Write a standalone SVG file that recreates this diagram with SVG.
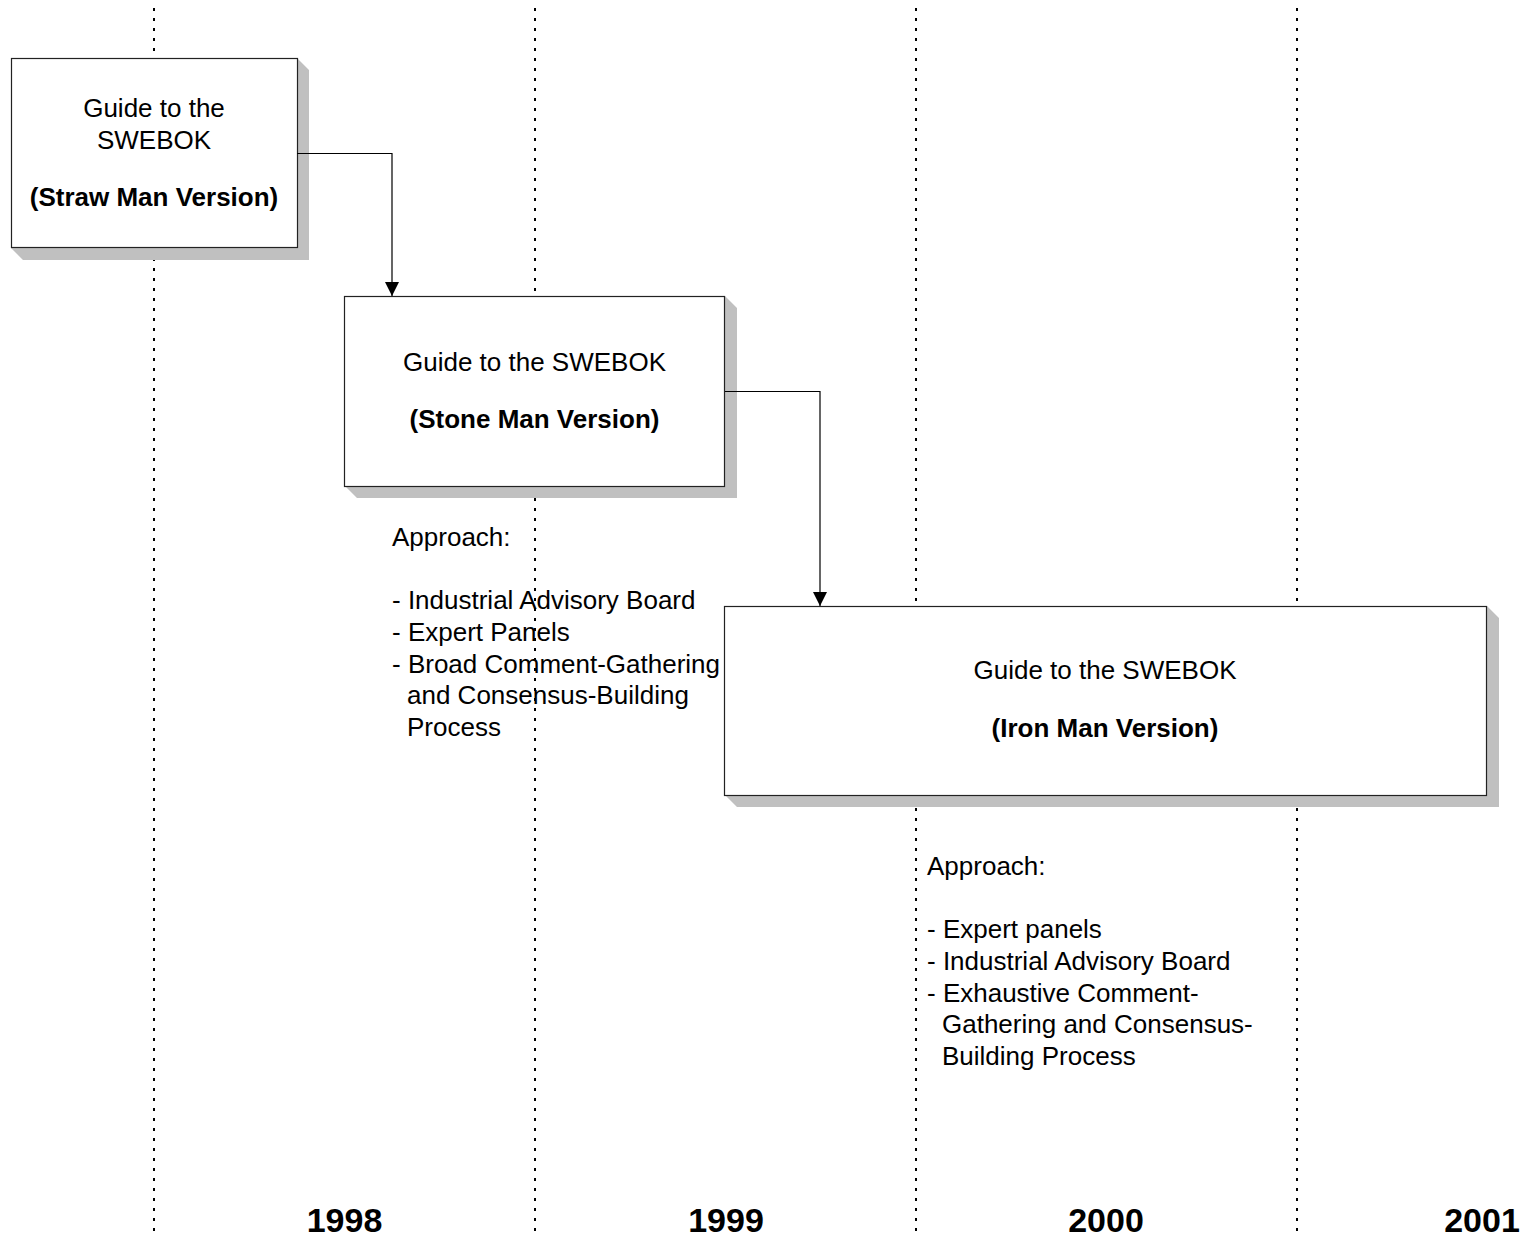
<svg xmlns="http://www.w3.org/2000/svg" width="1524" height="1238" viewBox="0 0 1524 1238">
  <style>
    .grid { stroke: #000; stroke-width: 2; stroke-dasharray: 3 7; fill: none; }
    .box { fill: #fff; stroke: #222; stroke-width: 1.2; }
    .shadow { fill: #c0c0c0; stroke: none; }
    .t { font-family: "Liberation Sans", Arial, sans-serif; font-size: 26px; fill: #000; }
    .c { text-anchor: middle; }
    .b { font-weight: bold; }
    .yr { font-family: "Liberation Sans", Arial, sans-serif; font-size: 34px; font-weight: bold; text-anchor: middle; fill: #000; }
    .conn { stroke: #000; stroke-width: 1.2; fill: none; }
  </style>
  <defs>
    <marker id="arrow" markerWidth="14" markerHeight="14" refX="14" refY="7" orient="auto" markerUnits="userSpaceOnUse">
      <path d="M0,0 L14,7 L0,14 Z" fill="#000"/>
    </marker>
  </defs>
  <rect width="1524" height="1238" fill="#fff"/>

  <g id="timeline">
    <line class="grid" x1="154" y1="8" x2="154" y2="1238"/>
    <line class="grid" x1="535" y1="8" x2="535" y2="1238"/>
    <line class="grid" x1="916" y1="8" x2="916" y2="1238"/>
    <line class="grid" x1="1297" y1="8" x2="1297" y2="1238"/>
  </g>

  <g id="straw-man">
    <polygon class="shadow" points="297,58 309,70 309,260 23,260 11,248 297,248"/>
    <rect class="box" x="11.5" y="58.5" width="286" height="189"/>
    <text class="t c" x="154" y="117">Guide to the</text>
    <text class="t c" x="154" y="149">SWEBOK</text>
    <text class="t c b" x="154" y="206">(Straw Man Version)</text>
  </g>

  <g id="stone-man">
    <polygon class="shadow" points="725,296 737,308 737,498 357,498 345,486 725,486"/>
    <rect class="box" x="344.5" y="296.5" width="380" height="190"/>
    <text class="t c" x="534.5" y="371">Guide to the SWEBOK</text>
    <text class="t c b" x="534.5" y="428">(Stone Man Version)</text>
  </g>

  <g id="stone-man-approach">
    <text class="t" x="392" y="546">Approach:</text>
    <text class="t" x="392" y="609">- Industrial Advisory Board</text>
    <text class="t" x="392" y="641">- Expert Panels</text>
    <text class="t" x="392" y="673">- Broad Comment-Gathering</text>
    <text class="t" x="407" y="704">and Consensus-Building</text>
    <text class="t" x="407" y="736">Process</text>
  </g>

  <g id="iron-man">
    <polygon class="shadow" points="1487,606 1499,618 1499,807 737,807 725,795 1487,795"/>
    <rect class="box" x="724.5" y="606.5" width="762" height="189"/>
    <text class="t c" x="1105" y="679">Guide to the SWEBOK</text>
    <text class="t c b" x="1105" y="737">(Iron Man Version)</text>
  </g>

  <g id="iron-man-approach">
    <text class="t" x="927" y="875">Approach:</text>
    <text class="t" x="927" y="938">- Expert panels</text>
    <text class="t" x="927" y="970">- Industrial Advisory Board</text>
    <text class="t" x="927" y="1002">- Exhaustive Comment-</text>
    <text class="t" x="942" y="1033">Gathering and Consensus-</text>
    <text class="t" x="942" y="1065">Building Process</text>
  </g>

  <g id="connectors">
    <polyline class="conn" points="297,153.5 392,153.5 392,296" marker-end="url(#arrow)"/>
    <polyline class="conn" points="725,391.5 820,391.5 820,606" marker-end="url(#arrow)"/>
  </g>

  <g id="years">
    <text class="yr" x="344.5" y="1232">1998</text>
    <text class="yr" x="726" y="1232">1999</text>
    <text class="yr" x="1106" y="1232">2000</text>
    <text class="yr" x="1482" y="1232">2001</text>
  </g>
</svg>
